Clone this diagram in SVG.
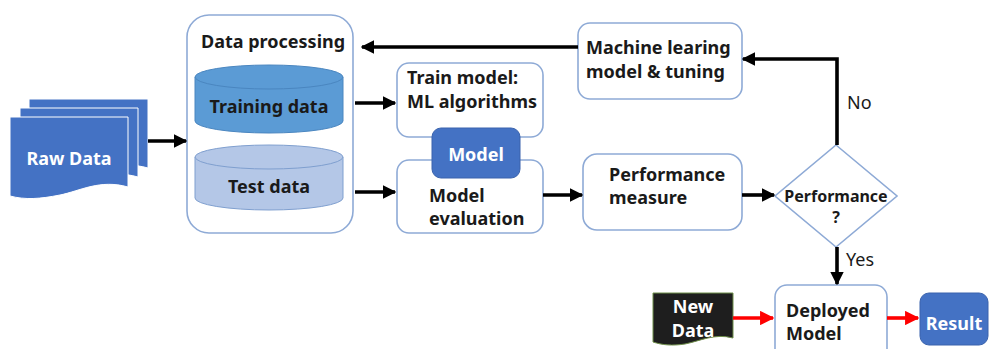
<svg xmlns="http://www.w3.org/2000/svg" width="992" height="349" viewBox="0 0 992 349">
  <defs>
    <marker id="ah" viewBox="0 0 10 10" refX="9" refY="5" markerWidth="3.8" markerHeight="3.8" orient="auto">
      <path d="M0,0 L10,5 L0,10 Z" fill="#000"/>
    </marker>
    <marker id="ahr" viewBox="0 0 10 10" refX="9" refY="5" markerWidth="4" markerHeight="4" orient="auto">
      <path d="M0,0 L10,5 L0,10 Z" fill="#ff0000"/>
    </marker>
    <style>
      .box { fill: #ffffff; stroke: #8eaad6; stroke-width: 1.6; }
      .t { font-family: "Noto Sans", "Open Sans", "Liberation Sans", sans-serif; font-weight: bold; font-size: 18px; fill: #1a1a1a; }
      .w { fill: #ffffff; }
      .c { text-anchor: middle; }
      .n { font-weight: normal; }
      .ln { fill: none; stroke: #000; stroke-width: 3.6; }
      .red { fill: none; stroke: #ff0000; stroke-width: 3.6; }
    </style>
  </defs>
  <rect width="992" height="349" fill="#ffffff"/>

  <!-- stacked raw data documents -->
  <g id="raw-data">
    <path d="M29,99 H148 V168 C120,160 100,172 80,176 C60,180 45,180 29,176 Z" fill="#4472c4" stroke="#ffffff" stroke-width="1"/>
    <path d="M20,108 H138 V177 C110,169 90,181 70,185 C50,189 35,189 20,185 Z" fill="#4472c4" stroke="#ffffff" stroke-width="1"/>
    <path d="M10,117 H128 V187 C100,179 80,191 60,195 C40,199 25,200 10,196 Z" fill="#4472c4" stroke="#ffffff" stroke-width="1"/>
    <text class="t w c" x="69" y="165">Raw Data</text>
  </g>

  <g id="data-processing">
    <rect class="box" x="187" y="15" width="166" height="218" rx="22"/>
    <text class="t" x="201" y="48">Data processing</text>
  </g>

  <g id="training-data">
    <path d="M195,77 V121 A74,12 0 0 0 343,121 V77 Z" fill="#5b9bd5" stroke="#4a86c0" stroke-width="1"/>
    <ellipse cx="269" cy="77" rx="74" ry="12" fill="#5b9bd5" stroke="#4a86c0" stroke-width="1"/>
    <text class="t c" x="269" y="113">Training data</text>
  </g>

  <g id="test-data">
    <path d="M195,157 V198 A74,12 0 0 0 343,198 V157 Z" fill="#b4c7e7" stroke="#7f9fcf" stroke-width="1"/>
    <ellipse cx="269" cy="157" rx="74" ry="12" fill="#b4c7e7" stroke="#7f9fcf" stroke-width="1"/>
    <text class="t c" x="269" y="193">Test data</text>
  </g>

  <g id="train-model">
    <rect class="box" x="397" y="63" width="146" height="74" rx="12"/>
    <text class="t" x="407" y="84">Train model:</text>
    <text class="t" x="407" y="108">ML algorithms</text>
  </g>

  <g id="model-evaluation">
    <rect class="box" x="397" y="160" width="146" height="73" rx="12"/>
    <text class="t" x="429" y="202">Model</text>
    <text class="t" x="429" y="225">evaluation</text>
  </g>

  <g id="model">
    <rect x="432" y="128" width="88" height="50" rx="9" fill="#4472c4" stroke="#3a63ad" stroke-width="1"/>
    <text class="t w c" x="476" y="161">Model</text>
  </g>

  <g id="ml-tuning">
    <rect class="box" x="578" y="23" width="164" height="76" rx="12"/>
    <text class="t" x="586" y="54">Machine learing</text>
    <text class="t" x="586" y="78">model &amp; tuning</text>
  </g>

  <g id="performance-measure">
    <rect class="box" x="583" y="154" width="159" height="76" rx="14"/>
    <text class="t" x="609" y="181">Performance</text>
    <text class="t" x="609" y="204">measure</text>
  </g>

  <g id="decision">
    <path class="box" d="M836,145 L897,196 L836,247 L775,196 Z"/>
    <text class="t c" x="836" y="202" style="font-size:16px">Performance</text>
    <text class="t c" x="836" y="223" style="font-size:16px">?</text>
  </g>

  <g id="new-data">
    <path d="M653,293 H733 V338 C715,333 700,341 685,344 C672,346 662,345 653,342 Z" fill="#1e1e1e" stroke="#6f8f4a" stroke-width="1"/>
    <text class="t w c" x="693" y="313">New</text>
    <text class="t w c" x="693" y="337">Data</text>
  </g>

  <g id="deployed-model">
    <rect class="box" x="775" y="285" width="112" height="80" rx="12"/>
    <text class="t" x="786" y="317">Deployed</text>
    <text class="t" x="786" y="340">Model</text>
  </g>

  <g id="result">
    <rect x="920" y="293" width="68" height="52" rx="9" fill="#4472c4" stroke="#3a63ad" stroke-width="1"/>
    <text class="t w c" x="954" y="330">Result</text>
  </g>

  <g id="connectors">
    <line class="ln" x1="148" y1="141" x2="186" y2="141" marker-end="url(#ah)"/>
    <line class="ln" x1="355" y1="103" x2="395" y2="103" marker-end="url(#ah)"/>
    <line class="ln" x1="355" y1="192" x2="395" y2="192" marker-end="url(#ah)"/>
    <line class="ln" x1="543" y1="195" x2="582" y2="195" marker-end="url(#ah)"/>
    <line class="ln" x1="742" y1="195" x2="774" y2="195" marker-end="url(#ah)"/>
    <line class="ln" x1="578" y1="47" x2="362" y2="47" marker-end="url(#ah)"/>
    <polyline class="ln" points="837,145 837,59 743,59" marker-end="url(#ah)"/>
    <line class="ln" x1="837" y1="247" x2="837" y2="284" marker-end="url(#ah)"/>
    <line class="red" x1="733" y1="318" x2="773" y2="318" marker-end="url(#ahr)"/>
    <line class="red" x1="887" y1="318" x2="918" y2="318" marker-end="url(#ahr)"/>
    <text class="t n" x="847" y="109">No</text>
    <text class="t n" x="846" y="266">Yes</text>
  </g>
</svg>
